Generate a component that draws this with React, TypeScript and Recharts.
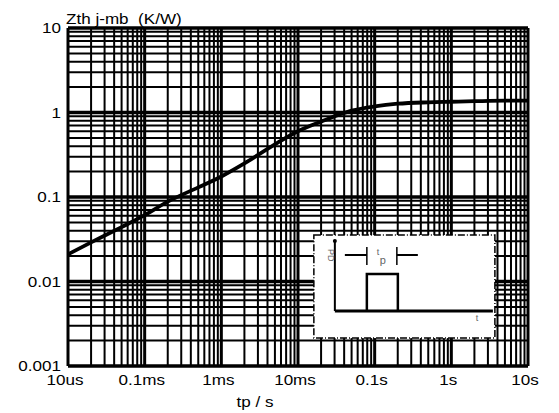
import { LineChart, Line, XAxis, YAxis, ReferenceLine, ReferenceArea } from 'recharts';

// pulse duration (s) and thermal impedance (K/W)
const tpValues = [1e-5, 2e-5, 5e-5, 1e-4, 2e-4, 5e-4, 1e-3, 2e-3, 5e-3, 1e-2, 2e-2, 5e-2, 1e-1, 2e-1, 5e-1, 1, 2, 5, 10];
const zthValues = [0.021, 0.029, 0.044, 0.061, 0.088, 0.13, 0.175, 0.25, 0.42, 0.6, 0.78, 1.05, 1.18, 1.27, 1.32, 1.34, 1.36, 1.38, 1.38];

const xTicks = [1e-5, 1e-4, 1e-3, 1e-2, 1e-1, 1, 10];
const xTickLabels = ['10us', '0.1ms', '1ms', '10ms', '0.1s', '1s', '10s'];
const yTicks = [0.001, 0.01, 0.1, 1, 10];
const yTickLabels = ['0.001', '0.01', '0.1', '1', '10'];

const gridMults = [2, 3, 4, 5, 6, 7, 8, 9];

const data = tpValues.map((t, i) => ({ t, z: zthValues[i] }));

const minorX = xTicks.slice(0, -1).flatMap((d) => gridMults.map((m) => d * m));
const minorY = yTicks.slice(0, -1).flatMap((d) => gridMults.map((m) => d * m));

const FONT = '"Liberation Sans", Arial, sans-serif';
const SX = 1.22;

function StretchText({ x, y, anchor = 'start', size = 14, fill = '#000', children }: any) {
  return (
    <text
      transform={`translate(${x},${y}) scale(${SX},1)`}
      textAnchor={anchor}
      fontSize={size}
      fontFamily={FONT}
      fill={fill}
      style={{ whiteSpace: 'pre' }}
    >
      {children}
    </text>
  );
}

const XTick = ({ x, y, payload }: any) => {
  const i = xTicks.indexOf(payload.value);
  return <StretchText x={x - 3} y={y + 19} anchor="middle">{xTickLabels[i]}</StretchText>;
};

const YTick = ({ x, y, payload }: any) => {
  const i = yTicks.indexOf(payload.value);
  return <StretchText x={x - 7} y={y + 5} anchor="end">{yTickLabels[i]}</StretchText>;
};

const TitleLabel = ({ viewBox }: any) => (
  <StretchText x={viewBox.x + viewBox.width - 2} y={viewBox.y - 4}>{'Zth j-mb  (K/W)'}</StretchText>
);

const XLabel = ({ viewBox }: any) => (
  <StretchText x={viewBox.x + 187} y={viewBox.y + 41} anchor="middle">tp / s</StretchText>
);

// small pulse sketch drawn inside the inset box
const PulseInset = ({ x, y, width, height }: any) => {
  const ax = x + 21;
  const base = y + 76;
  return (
    <g>
      <rect x={x} y={y} width={width} height={height} fill="#fff" stroke="#000" strokeWidth={1.5} strokeDasharray="7 2 1 2" />
      <line x1={ax} y1={y + 6} x2={ax} y2={base} stroke="#000" strokeWidth={2} />
      <circle cx={ax} cy={y + 6} r={2} fill="#000" />
      <line x1={ax} y1={base} x2={x + width - 2} y2={base} stroke="#000" strokeWidth={3} />
      <polyline points={`${x + 53},${base} ${x + 53},${y + 39} ${x + 84},${y + 39} ${x + 84},${base}`} fill="none" stroke="#000" strokeWidth={2.5} />
      <line x1={x + 31} y1={y + 20} x2={x + 53} y2={y + 20} stroke="#000" strokeWidth={2} />
      <line x1={x + 53} y1={y + 12} x2={x + 53} y2={y + 30} stroke="#000" strokeWidth={1.5} />
      <line x1={x + 83} y1={y + 12} x2={x + 83} y2={y + 30} stroke="#000" strokeWidth={1.5} />
      <line x1={x + 83} y1={y + 20} x2={x + 104} y2={y + 20} stroke="#000" strokeWidth={2} />
      <text x={x + 63} y={y + 20} fontSize={9} fontFamily={FONT} fill="#666">t</text>
      <text x={x + 66} y={y + 29} fontSize={11} fontFamily={FONT} fill="#666">p</text>
      <text transform={`translate(${x + 14},${y + 14}) rotate(90)`} fontSize={9} fontFamily={FONT} fill="#666">PD</text>
      <text x={x + 162} y={y + 86} fontSize={9} fontFamily={FONT} fill="#666">t</text>
    </g>
  );
};

export default function App() {
  return (
    <div style={{ position: 'absolute', left: 0, top: 0, background: '#fff' }}>
      <LineChart width={559} height={413} data={data} margin={{ top: 28, right: 31, left: 0, bottom: 0 }}>
        <XAxis
          dataKey="t"
          type="number"
          scale="log"
          domain={[1e-5, 10]}
          ticks={xTicks}
          allowDataOverflow
          axisLine={false}
          tickLine={false}
          tickSize={0}
          tickMargin={0}
          height={47}
          tick={<XTick />}
          interval={0}
          label={<XLabel />}
        />
        <YAxis
          type="number"
          scale="log"
          domain={[0.001, 10]}
          ticks={yTicks}
          allowDataOverflow
          axisLine={false}
          tickLine={false}
          tickSize={0}
          tickMargin={0}
          width={68}
          tick={<YTick />}
          interval={0}
          label={<TitleLabel />}
        />
        {minorX.map((v) => (
          <ReferenceLine key={`mx${v}`} x={v} stroke="#000" strokeWidth={2} />
        ))}
        {minorY.map((v) => (
          <ReferenceLine key={`my${v}`} y={v} stroke="#000" strokeWidth={2} />
        ))}
        {xTicks.map((v) => (
          <ReferenceLine key={`x${v}`} x={v} stroke="#000" strokeWidth={3} />
        ))}
        {yTicks.map((v) => (
          <ReferenceLine key={`y${v}`} y={v} stroke="#000" strokeWidth={3.5} />
        ))}
        <ReferenceArea
          x1={0.0161}
          x2={3.7}
          y1={0.00214}
          y2={0.0355}
          shape={<PulseInset />}
          zIndex={1000}
        />
        <Line
          dataKey="z"
          type="monotone"
          stroke="#000"
          strokeWidth={3.8}
          dot={false}
          isAnimationActive={false}
        />
      </LineChart>
    </div>
  );
}
